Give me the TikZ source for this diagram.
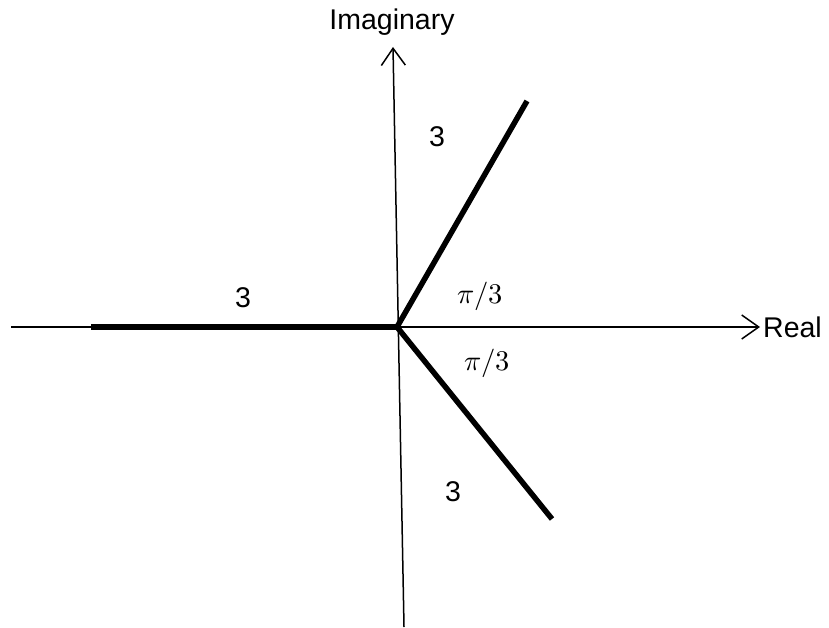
\documentclass[tikz,border=0pt]{standalone}
\usepackage{fontspec}
\usepackage{unicode-math}
\setmainfont{Liberation Sans}
\setmathfont{Latin Modern Math}
\usetikzlibrary{arrows.meta}
\begin{document}
\begin{tikzpicture}[x=1pt,y=-1pt,
  axis/.style={line width=1.5pt,-{Straight Barb[length=17pt,width=24pt,line width=1.5pt]}},
  ray/.style={line width=5.5pt},
  lbl/.style={font=\fontsize{28.5}{34}\selectfont,inner sep=0pt}]
\useasboundingbox (0,0) rectangle (829,628);
\coordinate (O) at (397,327);
\coordinate (xl) at (11,327);
\coordinate (xr) at (760,327);
\coordinate (yb) at (404,627);
\coordinate (yt) at (393,47);
\coordinate (A) at (91,327);
\coordinate (B) at (527,101);
\coordinate (C) at (552,519);
\draw[axis] (xl) -- (xr);
\draw[axis] (yb) -- (yt);
\draw[ray] (A) -- (O);
\draw[ray,line join=round] (B) -- (O) -- (C);
\node[lbl,anchor=west] (real) at (763,327) {Real};
\node[lbl] (imag) at (392,22) {Imaginary};
\node[lbl] (l1) at (243,298) {3};
\node[lbl] (l2) at (437,137) {3};
\node[lbl] (l3) at (453,492) {3};
\node[lbl] (a1) at (480,296) {$\pi/3$};
\node[lbl] (a2) at (487,363) {$\pi/3$};
\end{tikzpicture}
\end{document}
